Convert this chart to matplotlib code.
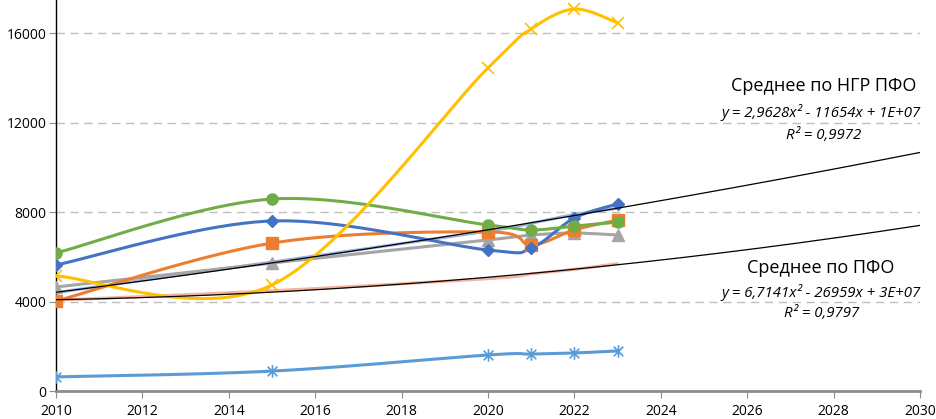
import matplotlib
matplotlib.use("Agg")
import matplotlib.pyplot as plt
import numpy as np
from matplotlib.path import Path

plt.rcParams["font.family"] = ["Open Sans", "DejaVu Sans"]

years = [2010, 2015, 2020, 2021, 2022, 2023]

s_blue = [5630, 7600, 6300, 6390, 7730, 8360]
s_orange = [4020, 6610, 7110, 6530, 7200, 7640]
s_gray = [4650, 5720, 6750, 6970, 7060, 6970]
s_green = [6170, 8580, 7420, 7200, 7370, 7550]
s_yellow = [5140, 4740, 14440, 16180, 17070, 16450]
s_lightblue = [630, 890, 1610, 1650, 1700, 1790]
avg_ngr = [4400, 5760, 7150, 7500, 7890, 8170]
avg_pfo = [4060, 4480, 5020, 5230, 5440, 5690]

trend_end = 2030
label_ngr = "Среднее по НГР ПФО"
eq_ngr = "y = 2,9628x² - 11654x + 1E+07"
r2_ngr = "R² = 0,9972"
label_pfo = "Среднее по ПФО"
eq_pfo = "y = 6,7141x² - 26959x + 3E+07"
r2_pfo = "R² = 0,9797"


def smooth(x, y, n=40):
    # Excel-like bezier smoothing through the points
    pts = np.column_stack([x, y]).astype(float)
    out = []
    for i in range(len(pts) - 1):
        p0 = pts[max(i - 1, 0)]
        p1 = pts[i]
        p2 = pts[i + 1]
        p3 = pts[min(i + 2, len(pts) - 1)]
        c1 = p1 + (p2 - p0) / 6
        c2 = p2 - (p3 - p1) / 6
        t = np.linspace(0, 1, n)[:, None]
        seg = (1 - t) ** 3 * p1 + 3 * (1 - t) ** 2 * t * c1 + 3 * (1 - t) * t ** 2 * c2 + t ** 3 * p2
        out.append(seg if i == 0 else seg[1:])
    return np.vstack(out)


star = Path(
    [(-1, -1), (1, 1), (-1, 1), (1, -1), (0, -1.3), (0, 1.3)],
    [Path.MOVETO, Path.LINETO, Path.MOVETO, Path.LINETO, Path.MOVETO, Path.LINETO],
)

fig = plt.figure(figsize=(9.36, 4.19), dpi=100)
ax = fig.add_axes([56 / 936, 28 / 419, 864 / 936, 391 / 419])

series = [
    (avg_pfo, "#F6B4A0", None, 7),
    (avg_ngr, "#9FB4E2", None, 7),
    (s_lightblue, "#5B9BD5", star, 9),
    (s_gray, "#A5A5A5", "^", 8),
    (s_orange, "#ED7D31", "s", 8),
    (s_blue, "#4472C4", "D", 6),
    (s_green, "#70AD47", "o", 8),
    (s_yellow, "#FFC000", "x", 8),
]

for vals, color, marker, ms in series:
    xy = smooth(years, vals)
    ax.plot(xy[:, 0], xy[:, 1], color=color, lw=2.2, solid_capstyle="round", zorder=3)
    if marker is not None:
        if marker == "x" or marker is star:
            ax.plot(years, vals, ls="none", marker=marker, ms=ms, mec=color, mfc="none", mew=1.2, zorder=4)
        else:
            ax.plot(years, vals, ls="none", marker=marker, ms=ms, mec=color, mfc=color, zorder=4)

# polynomial trend lines (order 2) extended to 2030
tx = np.linspace(years[0], trend_end, 200)
for vals in (avg_ngr, avg_pfo):
    coef = np.polyfit(np.array(years) - 2010, vals, 2)
    ax.plot(tx, np.polyval(coef, tx - 2010), color="black", lw=0.9, zorder=5)

ax.set_xlim(2010, 2030)
ax.set_ylim(0, 17475)
ax.set_xticks(range(2010, 2031, 2))
ax.set_yticks(range(0, 16001, 4000))
ax.yaxis.grid(True, color="#BFBFBF", ls=(0, (6, 4)), lw=1.0)
ax.set_axisbelow(True)

for side in ("top", "right"):
    ax.spines[side].set_visible(False)
ax.spines["left"].set_color("black")
ax.spines["left"].set_linewidth(1.0)
ax.spines["bottom"].set_color("#8C8C8C")
ax.spines["bottom"].set_linewidth(2.0)
ax.tick_params(axis="x", length=5, color="#8C8C8C", labelsize=10, pad=4)
ax.tick_params(axis="y", length=5, color="#8C8C8C", labelsize=10, pad=2)

ax.text(2027.78, 13631, label_ngr, fontsize=13, ha="center", va="center")
ax.text(2027.72, 12425, eq_ngr, fontsize=10.8, style="italic", ha="center", va="center")
ax.text(2027.76, 11441, r2_ngr, fontsize=10.8, style="italic", ha="center", va="center")
ax.text(2027.7, 5497, label_pfo, fontsize=13, ha="center", va="center")
ax.text(2027.72, 4380, eq_pfo, fontsize=10.8, style="italic", ha="center", va="center")
ax.text(2027.72, 3486, r2_pfo, fontsize=10.8, style="italic", ha="center", va="center")

fig.savefig("out.png", dpi=100)
